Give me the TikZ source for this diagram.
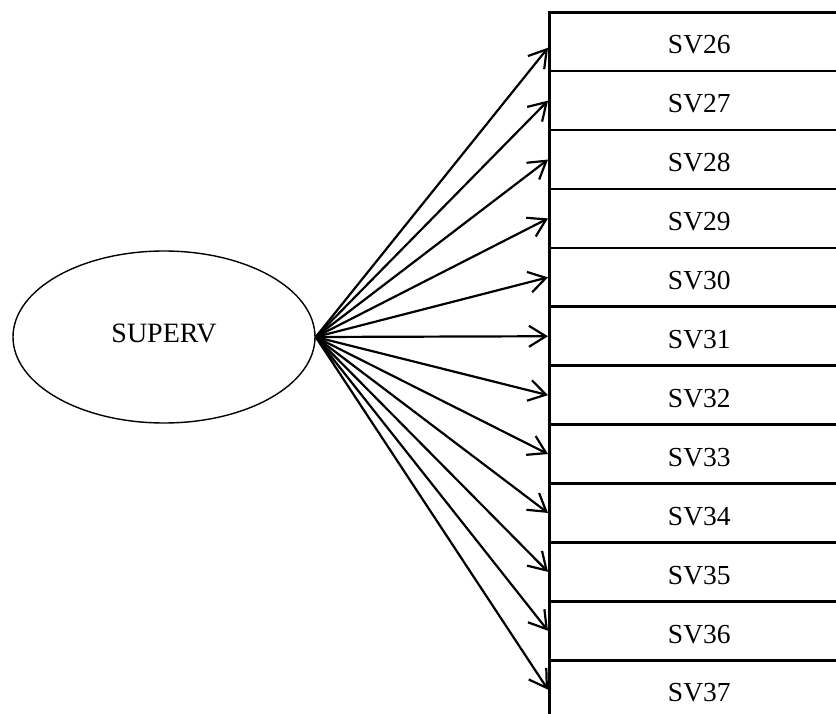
\documentclass[tikz,border=0pt]{standalone}
\usepackage{fontspec}
\setmainfont{Liberation Serif}
\usetikzlibrary{arrows.meta,shapes.geometric}
\begin{document}
\begin{tikzpicture}[x=1pt,y=-1pt,
  itembox/.style={draw, line width=2.6pt, rectangle, anchor=north west,
    minimum width=300pt, minimum height=58.9pt, inner xsep=0pt, inner ysep=0pt,
    text height=41.7pt, text depth=17.2pt,
    font=\fontsize{27.5}{32}\selectfont},
  latent/.style={draw, line width=1.4pt, ellipse, minimum width=302pt,
    minimum height=172pt, inner sep=0pt, text height=18pt, text depth=8pt,
    font=\fontsize{28}{32}\selectfont},
  link/.style={line width=2.2pt, -{Straight Barb[length=17pt,width=21pt,line width=2.2pt]}}]
  \clip (0,0) rectangle (836,714);
  \node[latent] (sup) at (164,337) {SUPERV};
  \foreach \k [count=\i from 0] in {26,...,37} {
    \node[itembox] (sv\k) at (548,{11+58.9*\i}) {SV\k};
  }
  % the topmost arrow lands a little below the middle of its box
  \draw[link] (sup.east) -- ([yshift=-6pt]sv26.west);
  \foreach \k in {27,...,37} {
    \draw[link] (sup.east) -- (sv\k.west);
  }
\end{tikzpicture}
\end{document}
